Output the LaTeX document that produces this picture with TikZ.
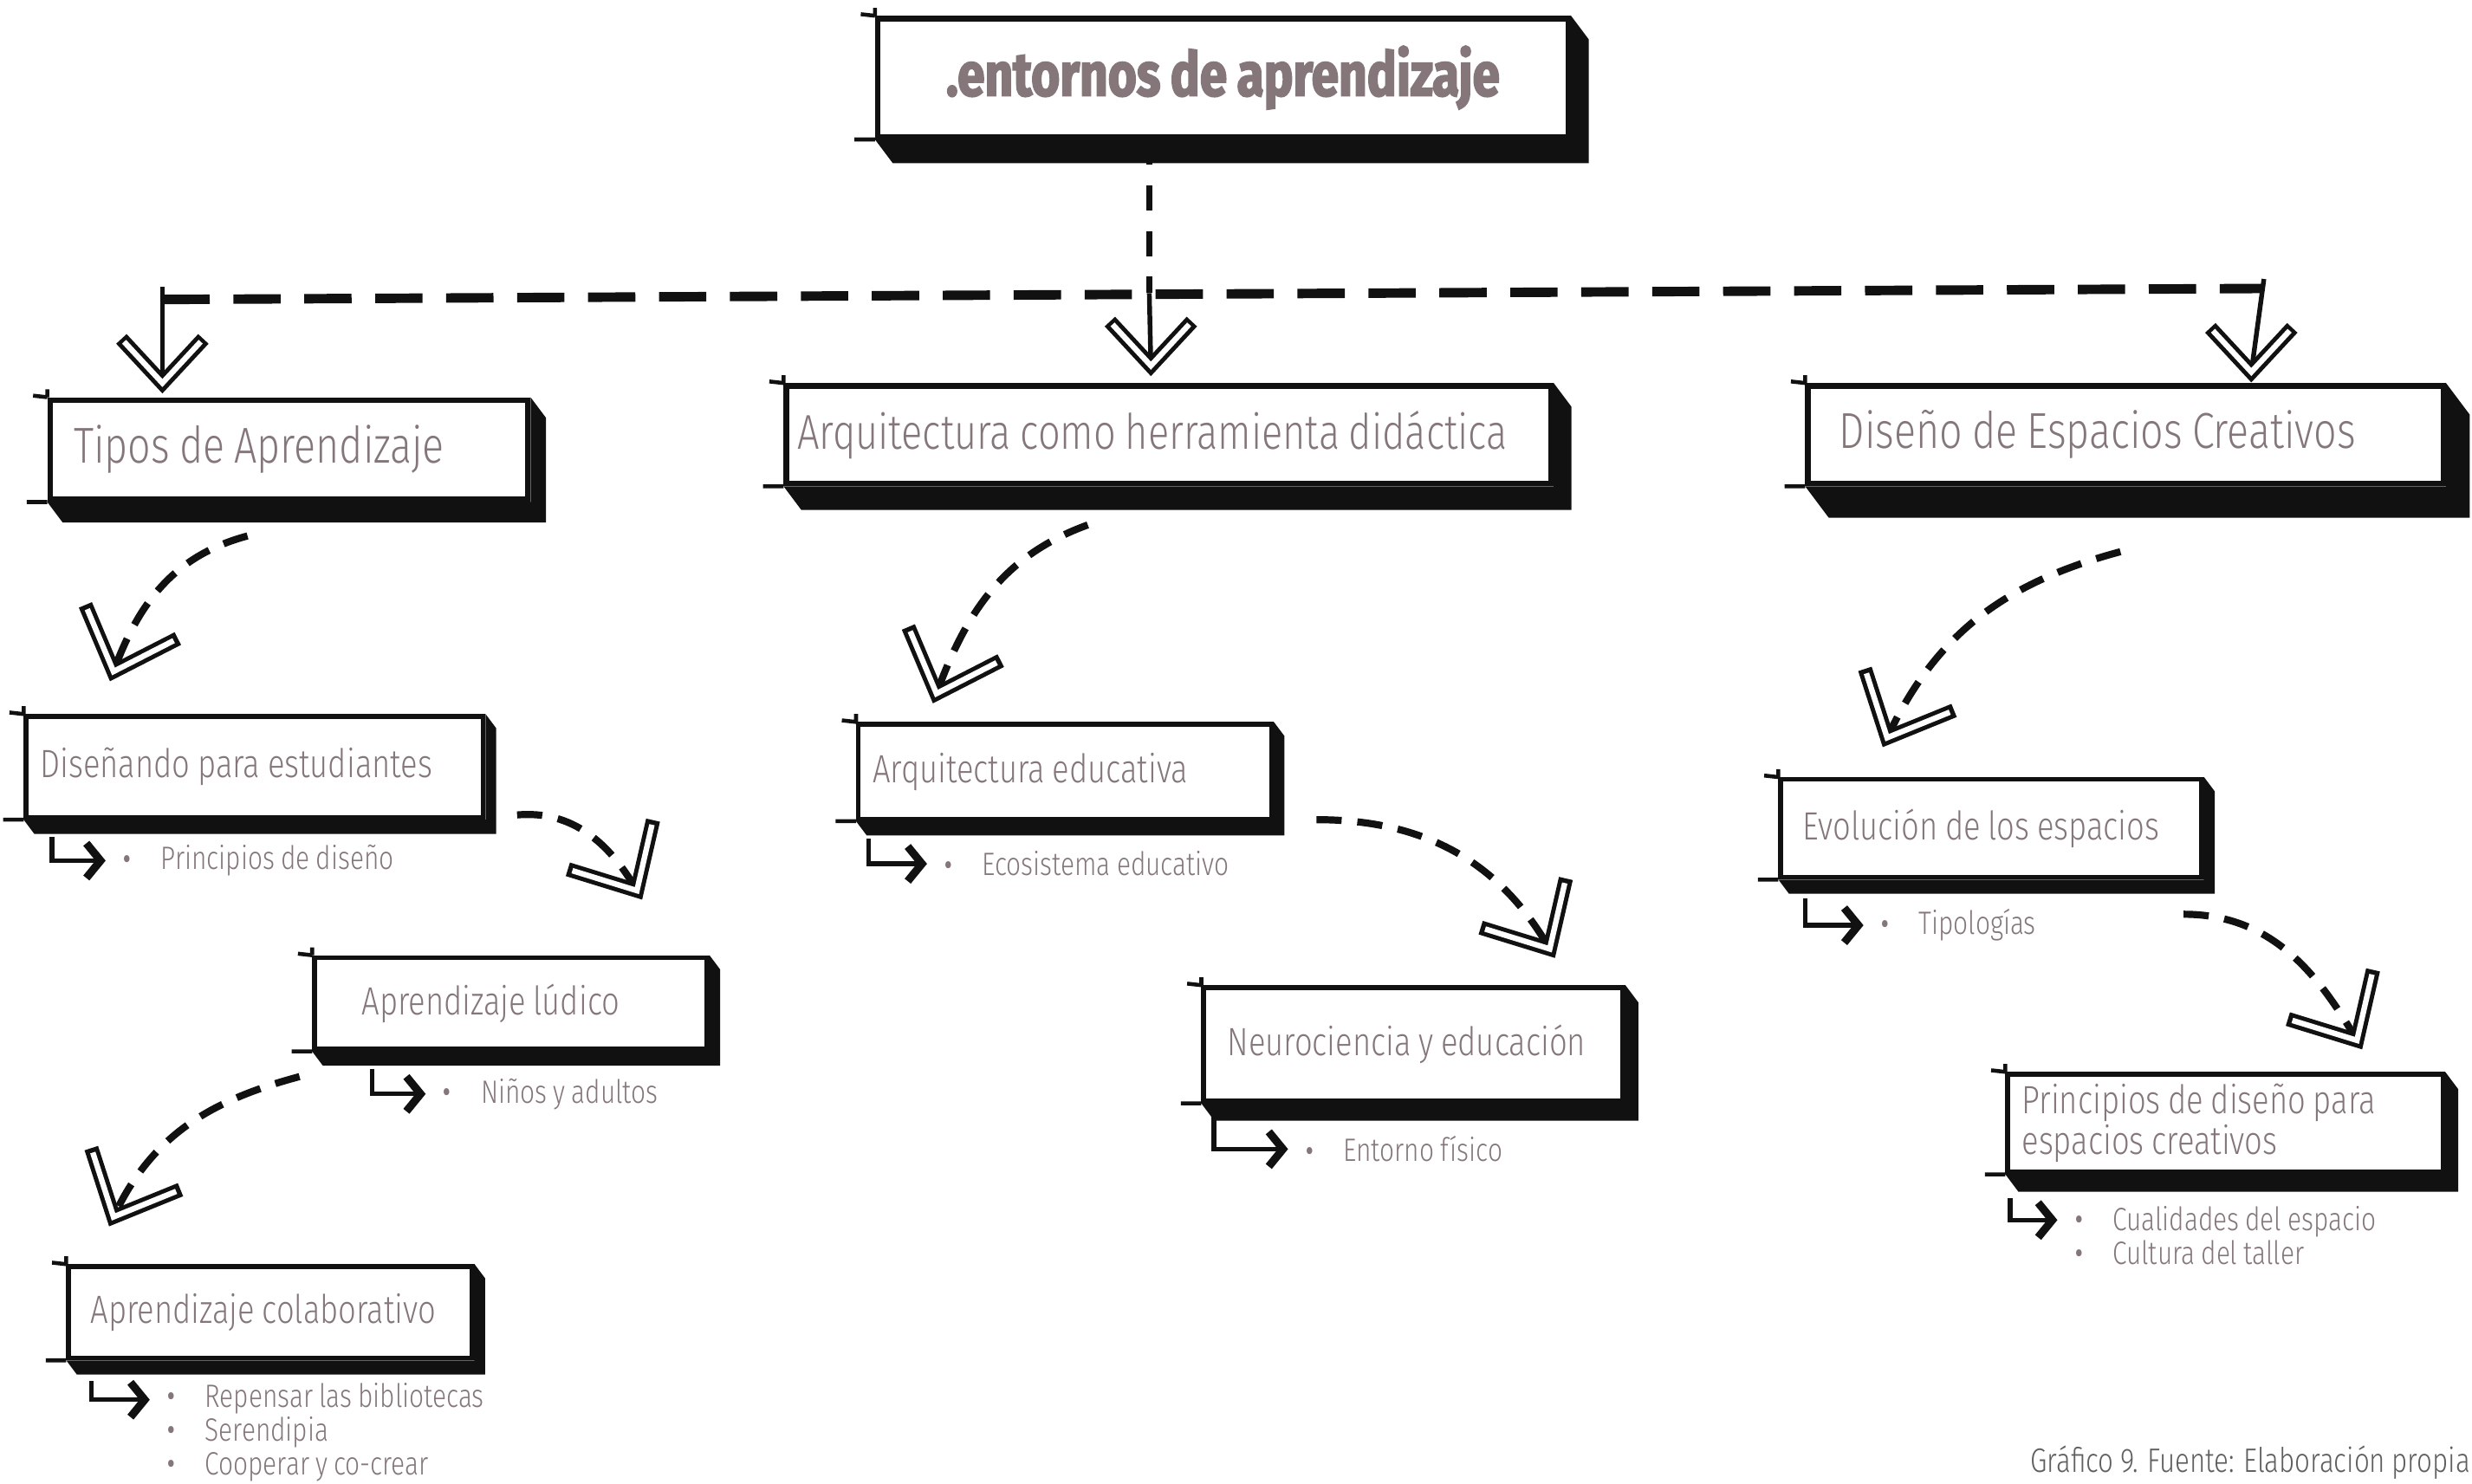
\documentclass[tikz,border=0pt]{standalone}
\usepackage{fontspec}
\setmainfont{Fira Sans Light}[FakeStretch=0.8,WordSpace=0.85]
\newfontfamily\titlefont{Fira Sans}[FakeStretch=0.8,WordSpace=0.85,BoldFeatures={FakeBold=2.5}]
\usetikzlibrary{calc,backgrounds,arrows.meta}
\definecolor{ink}{RGB}{17,17,17}
\definecolor{txt}{RGB}{133,119,121}
\definecolor{capt}{RGB}{95,95,95}
\newcommand\bulitem{\smash{\raisebox{-3.5pt}{\fontsize{30}{21}\selectfont\textbullet}}\hspace{18pt}}

\begin{document}
\begin{tikzpicture}[x=1pt,y=1pt,
    box/.style n args={3}{draw=ink,fill=white,line width=3pt,anchor=north west,
      minimum width=#1,minimum height=#2,text width=#1-2*#3,inner xsep=#3,
      inner ysep=0pt,align=flush left,text=txt,font=\fontsize{25}{26}\selectfont},
    big/.style={line width=3.5pt,font=\fontsize{32}{34}\selectfont},
    listnode/.style={anchor=west,inner sep=0pt,text=txt,align=left,
      font=\fontsize{20.5}{21.5}\selectfont},
    bigdash/.style={ink,line width=6pt,dash pattern=on 30pt off 15pt},
    thindash/.style={ink,line width=3.5pt,dash pattern=on 16pt off 13pt},
    curvdash/.style={ink,line width=4.5pt,dash pattern=on 16pt off 10pt},
    stem/.style={ink,line width=3pt},
    subarr/.style={ink,line width=3pt,shorten >=10pt,
      -{Straight Barb[length=9pt,width=22pt,line width=5pt]}},
    chev/.pic={
      \draw[ink,line width=9pt,line join=miter] (-28,26) -- (0,0) -- (-28,-26);
      \draw[white,line width=3.5pt,line join=miter] (-26.2,24.3) -- (0,0) -- (-26.2,-24.3);
    }]
\useasboundingbox (0,0) rectangle (1568,-941);

%title
\node[box={438}{75}{0},align=flush center,line width=3.5pt,
  font=\titlefont\bfseries\fontsize{39}{40}\selectfont] (title) at (555,-10) {.entornos de aprendizaje};

%level 1
\node[box={303}{63}{15},big] (tipos) at (30,-252) {Tipos de Aprendizaje};
\node[box={485}{62}{7},big,font=\fontsize{31}{33}\selectfont] (arq) at (497,-243) {\mbox{Arquitectura como herramienta didáctica}};
\node[box={403}{62}{20},big] (dis) at (1145,-243) {Diseño de Espacios Creativos};

\coordinate (hl) at (103,-190);
\coordinate (hm) at (729,-186);
\coordinate (hr) at (1436,-183);
\coordinate (t-tipos) at (103,-243);
\coordinate (t-arq) at (730,-232);
\coordinate (t-dis) at (1428,-236);
\draw[bigdash] (hl) -- (hr);
\draw[thindash] (title.south -| hm) -- (hm);
\draw[stem] ([yshift=8]hl) -- (t-tipos);
\draw[stem] (hm) -- (t-arq);
\draw[stem] ([yshift=6]hr) -- (t-dis);
\pic[rotate=-90] at (t-tipos) {chev};
\pic[rotate=-90] at (t-arq) {chev};
\pic[rotate=-90] at (t-dis) {chev};

%level 2, left
\node[box={290}{64}{9}] (disenando) at (15,-453) {Diseñando para estudiantes};
\node[box={249}{58}{30}] (ludico) at (198,-606) {Aprendizaje lúdico};
\node[box={256}{58}{14}] (colab) at (42,-802) {Aprendizaje colaborativo};
%level 2, middle
\node[box={262}{60}{9}] (arqedu) at (543,-458) {Arquitectura educativa};
\node[box={266}{72}{15}] (neuro) at (762,-625) {Neurociencia y educación};
%level 2, right
\node[box={267}{62}{14}] (evol) at (1128,-493) {Evolución de los espacios};
\node[box={276}{62}{9}] (princ) at (1272,-680) {Principios de diseño para\\espacios creativos};

%lists
\node[listnode] (l-dis) at (77,-546) {\bulitem Principios de diseño};
\node[listnode] (l-lud) at (280,-694) {\bulitem Niños y adultos};
\node[listnode,anchor=north west] (l-col) at (105,-877) {\bulitem Repensar las bibliotecas\\
  \bulitem Serendipia\\ \bulitem Cooperar y co-crear};
\node[listnode] (l-aed) at (598,-548) {\bulitem Ecosistema educativo};
\node[listnode] (l-neu) at (827,-729) {\bulitem Entorno físico};
\node[listnode] (l-evo) at (1192,-587) {\bulitem Tipologías};
\node[listnode,anchor=north west] (l-pri) at (1315,-765) {\bulitem Cualidades del espacio\\
  \bulitem Cultura del taller};

\coordinate (s-dis) at (33,-531);
\coordinate (s-lud) at (236,-678);
\coordinate (s-col) at (58,-876);
\coordinate (s-aed) at (551,-532);
\coordinate (s-neu) at (770,-708);
\coordinate (s-evo) at (1145,-570);
\coordinate (s-pri) at (1275,-760);
\draw[subarr] (s-dis) |- (l-dis.west);
\draw[subarr] (s-lud) |- (l-lud.west);
\draw[subarr] (s-col) |- ([yshift=-11]l-col.north west);
\draw[subarr] (s-aed) |- (l-aed.west);
\draw[subarr] (s-neu) |- (l-neu.west);
\draw[subarr] (s-evo) |- (l-evo.west);
\draw[subarr] (s-pri) |- ([yshift=-9]l-pri.north west);

%curved links
\coordinate (a1) at (157,-340);   \coordinate (b1) at (72,-426);
\coordinate (a2) at (328,-517);   \coordinate (b2) at (404,-565);
\coordinate (a3) at (190,-683);   \coordinate (b3) at (72,-772);
\coordinate (a4) at (690,-333);   \coordinate (b4) at (594,-440);
\coordinate (a5) at (835,-520);   \coordinate (b5) at (983,-602);
\coordinate (a6) at (1345,-350);  \coordinate (b6) at (1197,-468);
\coordinate (a7) at (1385,-580);  \coordinate (b7) at (1495,-660);
\draw[curvdash] (a1) to[out=195,in=70] (b1);
\draw[curvdash] (a2) to[out=5,in=120] (b2);
\draw[curvdash] (a3) to[out=195,in=65] (b3);
\draw[curvdash] (a4) to[out=200,in=70] (b4);
\draw[curvdash] (a5) to[out=0,in=120] (b5);
\draw[curvdash] (a6) to[out=195,in=65] (b6);
\draw[curvdash] (a7) to[out=0,in=120] (b7);
\pic[rotate=250,scale=1.2] at (b1) {chev};
\pic[rotate=300,scale=1.2] at (b2) {chev};
\pic[rotate=245,scale=1.2] at (b3) {chev};
\pic[rotate=250,scale=1.2] at (b4) {chev};
\pic[rotate=300,scale=1.2] at (b5) {chev};
\pic[rotate=245,scale=1.2] at (b6) {chev};
\pic[rotate=300,scale=1.2] at (b7) {chev};

\node[anchor=east,inner sep=0pt,text=capt,font=\fontsize{21.5}{24}\selectfont] (fuente)
  at (1567,-928) {Gráfico 9. Fuente: Elaboración propia};

%shadows
\begin{scope}[on background layer]
\fill[white] (0,0) rectangle (1568,-941);
\foreach \n/\d in {title/15,tipos/13,arq/15,dis/20,disenando/9,ludico/9,colab/9,arqedu/9,neuro/11,evol/9,princ/11}{
  \fill[ink] (\n.south west) -- (\n.south east) -- (\n.north east) -- ($(\n.north east)+(0.75*\d,-\d)$)
    -- ($(\n.south east)+(0.75*\d,-\d)$) -- ($(\n.south west)+(0.75*\d,-\d)$) -- cycle;
  \draw[ink,line width=2.5pt] ($(\n.north west)+(-9,1)$) -- (\n.north west)
    ($(\n.south west)+(-13,0)$) -- (\n.south west) ($(\n.north west)+(0,5)$) -- (\n.north west);
}
\end{scope}
\end{tikzpicture}
\end{document}
